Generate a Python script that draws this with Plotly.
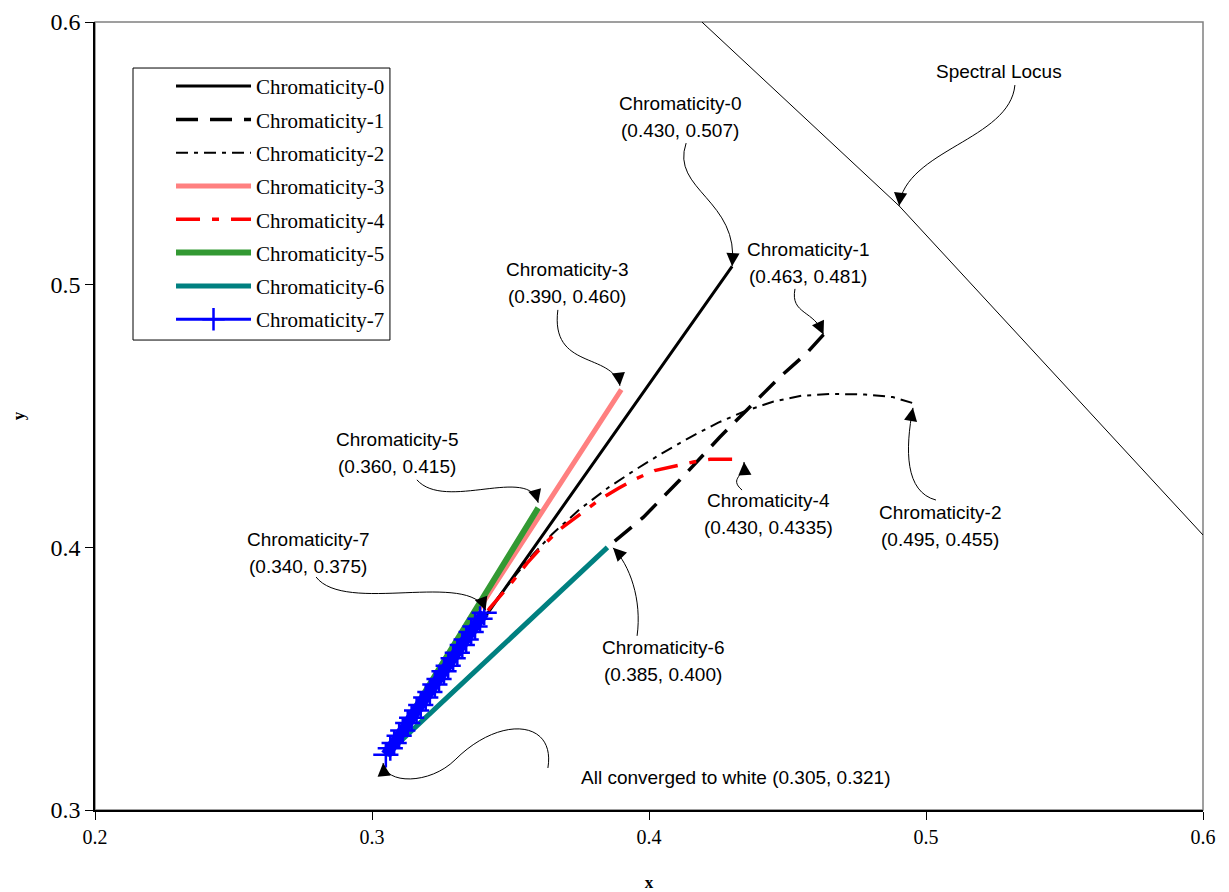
import plotly.graph_objects as go

# ---- chromaticity trajectories (CIE x, y) ----
c0_x = [0.430, 0.4000, 0.3704, 0.3426, 0.305]
c0_y = [0.507, 0.4620, 0.4180, 0.3762, 0.321]

c1_x = [0.463, 0.457, 0.4473, 0.4365, 0.4256, 0.4112, 0.3980, 0.385,
        0.375, 0.366, 0.357, 0.348, 0.339, 0.330, 0.321, 0.3126, 0.305]
c1_y = [0.481, 0.474, 0.4649, 0.4535, 0.4420, 0.4257, 0.4115, 0.400,
        0.3902, 0.3812, 0.3724, 0.3636, 0.3547, 0.3458, 0.3370, 0.3286, 0.321]

c2_x = [0.495, 0.488, 0.478, 0.466, 0.455, 0.445, 0.435, 0.425, 0.415,
        0.405, 0.395, 0.385, 0.375, 0.365, 0.357, 0.350, 0.3426, 0.305]
c2_y = [0.455, 0.4572, 0.4582, 0.4584, 0.4577, 0.4555, 0.452, 0.4475, 0.442,
        0.436, 0.4295, 0.4225, 0.4145, 0.405, 0.396, 0.387, 0.377, 0.321]

c3_x = [0.390, 0.3426, 0.305]
c3_y = [0.460, 0.3830, 0.321]

c4_x = [0.430, 0.422, 0.416, 0.410, 0.402, 0.395, 0.389, 0.382, 0.375,
        0.368, 0.362, 0.356, 0.350, 0.3426, 0.305]
c4_y = [0.4335, 0.4335, 0.4325, 0.4312, 0.4292, 0.426, 0.4225, 0.418, 0.4125,
        0.407, 0.401, 0.394, 0.386, 0.377, 0.321]

c5_x = [0.360, 0.345, 0.330, 0.318, 0.305]
c5_y = [0.415, 0.389, 0.3635, 0.343, 0.321]

c6_x = [0.385, 0.375, 0.366, 0.357, 0.348, 0.339, 0.330, 0.321, 0.3126, 0.305]
c6_y = [0.400, 0.3902, 0.3812, 0.3724, 0.3636, 0.3547, 0.3458, 0.3370, 0.3286, 0.321]

c7_x = [0.305, 0.3066, 0.3080, 0.3098, 0.3111, 0.3129, 0.3143, 0.3161, 0.3176,
        0.3194, 0.3209, 0.3227, 0.3242, 0.3260, 0.3275, 0.3293, 0.3308, 0.3326,
        0.3340, 0.3358, 0.3372, 0.3390, 0.3405]
c7_y = [0.321, 0.3235, 0.3255, 0.3283, 0.3303, 0.3331, 0.3351, 0.3379, 0.3400,
        0.3428, 0.3449, 0.3478, 0.3499, 0.3528, 0.3549, 0.3578, 0.3599, 0.3628,
        0.3649, 0.3678, 0.3699, 0.3728, 0.3751]

locus_x = [0.4191, 0.4903, 0.6000]
locus_y = [0.6000, 0.5300, 0.4047]

x_ticks = [0.2, 0.3, 0.4, 0.5, 0.6]
y_ticks = [0.3, 0.4, 0.5, 0.6]

series = [
    ("Chromaticity-0", c0_x, c0_y, dict(color="black", width=3)),
    ("Chromaticity-1", c1_x, c1_y, dict(color="black", width=3.5, dash="22px,12px")),
    ("Chromaticity-2", c2_x, c2_y, dict(color="black", width=2, dash="12px,6px,4px,6px")),
    ("Chromaticity-3", c3_x, c3_y, dict(color="#FF8080", width=5)),
    ("Chromaticity-4", c4_x, c4_y, dict(color="#FF0000", width=3.5, dash="24px,12px,7px,12px")),
    ("Chromaticity-5", c5_x, c5_y, dict(color="#339933", width=6)),
    ("Chromaticity-6", c6_x, c6_y, dict(color="#008080", width=5)),
]

fig = go.Figure()

fig.add_trace(go.Scatter(x=locus_x, y=locus_y, mode="lines", showlegend=False,
                         line=dict(color="black", width=1), hoverinfo="skip"))

for name, xs, ys, ln in series:
    fig.add_trace(go.Scatter(x=xs, y=ys, mode="lines", name=name, line=ln,
                             legendgroup=name))

# Chromaticity-7: a broad band under the "+" markers, legend entry kept thin
fig.add_trace(go.Scatter(x=c7_x, y=c7_y, mode="lines", showlegend=False,
                         legendgroup="Chromaticity-7", hoverinfo="skip",
                         line=dict(color="#0000FF", width=11)))
fig.add_trace(go.Scatter(
    x=c7_x, y=c7_y, mode="lines+markers", name="Chromaticity-7",
    legendgroup="Chromaticity-7",
    line=dict(color="#0000FF", width=3),
    marker=dict(symbol="cross-thin", size=18, line=dict(color="#0000FF", width=2.5)),
))

# ---- callouts: label lines, curved leader (cubic path) and arrow tip ----
# (line1, line2, text centre x, text centre y, leader path, tip x, tip y, ax, ay)
callouts = [
    ("Spectral Locus", None, 0.5264, 0.5810,
     "M0.5321,0.5760 C0.5303,0.5551 0.4924,0.5513 0.4903,0.5300", 0.4903, 0.5300, 1.3, -11.9),
    ("Chromaticity-0", "(0.430, 0.507)", 0.4112, 0.5640,
     "M0.4134,0.5539 C0.4076,0.5360 0.4329,0.5322 0.4300,0.5070", 0.4300, 0.5070, 0.8, -12),
    ("Chromaticity-1", "(0.463, 0.481)", 0.4574, 0.5081,
     "M0.4527,0.4984 C0.4509,0.4885 0.4599,0.4904 0.4630,0.4810", 0.4630, 0.4810, -5, -10.9),
    ("Chromaticity-3", "(0.390, 0.460)", 0.3704, 0.5005,
     "M0.3671,0.4904 C0.3643,0.4675 0.3866,0.4744 0.3895,0.4615", 0.3895, 0.4615, -1.4, -11.9),
    ("Chromaticity-5", "(0.360, 0.415)", 0.3090, 0.4359,
     "M0.3162,0.4257 C0.3264,0.4135 0.3570,0.4314 0.3600,0.4170", 0.3600, 0.4170, -3.2, -11.6),
    ("Chromaticity-7", "(0.340, 0.375)", 0.2769, 0.3977,
     "M0.2798,0.3887 C0.2903,0.3743 0.3354,0.3914 0.3410,0.3760", 0.3410, 0.3760, -4.1, -11.3),
    ("Chromaticity-4", "(0.430, 0.4335)", 0.4430, 0.4127,
     "M0.4336,0.4218 C0.4285,0.4264 0.4350,0.4272 0.4343,0.4325", 0.4343, 0.4325, 0.8, 12),
    ("Chromaticity-2", "(0.495, 0.455)", 0.5051, 0.4083,
     "M0.5036,0.4180 C0.4924,0.4211 0.4924,0.4371 0.4953,0.4531", 0.4953, 0.4531, -2.2, 11.8),
    ("Chromaticity-6", "(0.385, 0.400)", 0.4051, 0.3568,
     "M0.3957,0.3663 C0.3975,0.3800 0.3931,0.3933 0.3870,0.3998", 0.3870, 0.3998, 8.5, 8.5),
    ("All converged to white (0.305, 0.321)", None, 0.4311, 0.3122,
     "M0.3635,0.3160 C0.3664,0.3343 0.3462,0.3362 0.3300,0.3191 "
     "C0.3209,0.3096 0.3047,0.3096 0.3040,0.3179", 0.3040, 0.3179, 1, 12),
]

label_font = dict(family="Liberation Sans, Arial, sans-serif", size=19, color="black")
half_gap = 0.00514

shapes = [
    # plot frame (top/right edges in grey)
    dict(type="rect", xref="paper", yref="paper", x0=0, y0=0, x1=1, y1=1,
         line=dict(color="#808080", width=1.5), layer="below"),
    # legend box
    dict(type="rect", xref="paper", yref="paper", x0=0.0343, y0=0.5964, x1=0.2662, y1=0.9416,
         line=dict(color="black", width=1), fillcolor="white", layer="above"),
]
annotations = []
for l1, l2, tx, ty, path, hx, hy, ax, ay in callouts:
    if l2 is None:
        annotations.append(dict(x=tx, y=ty, xref="x", yref="y", text=l1,
                                showarrow=False, font=label_font))
    else:
        annotations.append(dict(x=tx, y=ty + half_gap, xref="x", yref="y", text=l1,
                                showarrow=False, font=label_font))
        annotations.append(dict(x=tx, y=ty - half_gap, xref="x", yref="y", text=l2,
                                showarrow=False, font=label_font))
    shapes.append(dict(type="path", xref="x", yref="y", path=path,
                       line=dict(color="black", width=1)))
    annotations.append(dict(x=hx, y=hy, xref="x", yref="y", text="", showarrow=True,
                            ax=ax, ay=ay, arrowhead=2, arrowsize=2.2, arrowwidth=1.2,
                            arrowcolor="black"))

serif = "Liberation Serif, Times New Roman, serif"

fig.update_layout(
    width=1229, height=892,
    margin=dict(l=95, r=26, t=22, b=82),
    paper_bgcolor="white", plot_bgcolor="white",
    font=dict(family=serif, color="black"),
    shapes=shapes, annotations=annotations,
    legend=dict(x=0.0686, y=0.9442, xanchor="left", yanchor="top",
                bgcolor="rgba(0,0,0,0)", borderwidth=0,
                font=dict(family=serif, size=21, color="black"),
                itemwidth=75, tracegroupgap=3),
    xaxis=dict(range=[0.2, 0.6], tickvals=x_ticks, ticktext=[f"{v:.1f}" for v in x_ticks],
               showgrid=False, zeroline=False, showline=True, linecolor="black",
               linewidth=1.5, ticks="outside", ticklen=8, tickcolor="black",
               tickfont=dict(family=serif, size=20), automargin=False,
               title=dict(text="<b>x</b>", font=dict(family=serif, size=17), standoff=30)),
    yaxis=dict(range=[0.3, 0.6], tickvals=y_ticks, ticktext=[f"{v:.1f}" for v in y_ticks],
               showgrid=False, zeroline=False, showline=True, linecolor="black",
               linewidth=1.5, ticks="outside", ticklen=8, tickcolor="black",
               tickfont=dict(family=serif, size=24), automargin=False,
               title=dict(text="<b>y</b>", font=dict(family=serif, size=17), standoff=22)),
)

fig.write_html("out.html")
